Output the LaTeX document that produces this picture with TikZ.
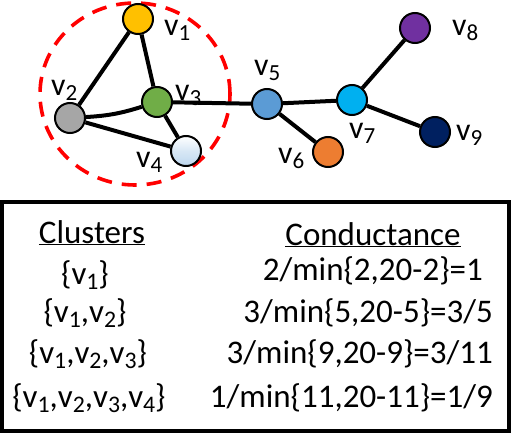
\documentclass[tikz,border=0pt]{standalone}
\usepackage{fontspec}
\setmainfont{Carlito}
\usetikzlibrary{positioning}
\definecolor{vgold}{HTML}{FFC000}
\definecolor{vgray}{HTML}{A6A6A6}
\definecolor{vgreen}{HTML}{70AD47}
\definecolor{vpale}{HTML}{BDD7EE}
\definecolor{vblue}{HTML}{5B9BD5}
\definecolor{vorange}{HTML}{ED7D31}
\definecolor{vcyan}{HTML}{00B0F0}
\definecolor{vpurple}{HTML}{7030A0}
\definecolor{vnavy}{HTML}{002060}
\newcommand{\vx}[1]{v\raisebox{-0.16em}{\scalebox{0.72}{#1}}}
\tikzset{
  vtx/.style={circle,draw=black,line width=2pt,minimum size=30pt,inner sep=0pt},
  vlab/.style={font=\fontsize{32}{32}\selectfont,inner sep=0pt,anchor=base west},
  edge/.style={line width=4pt},
  cell/.style={font=\fontsize{33}{35}\selectfont,inner sep=0pt}
}
\begin{document}
\begin{tikzpicture}[x=1pt,y=-1pt]
\useasboundingbox (0,0) rectangle (512,434);
% the cluster
\draw[red,line width=3.6pt,dash pattern=on 15pt off 10pt] (135,94) ellipse [x radius=95pt, y radius=91pt];
% vertices
\node[vtx,fill=vgold] (v1) at (138,19) {};
\node[vtx,fill=vgray] (v2) at (70,118) {};
\node[vtx,fill=vgreen] (v3) at (157,102) {};
\node[vtx,top color=white,bottom color=vpale,middle color=vpale!60] (v4) at (186,151) {};
\node[vtx,fill=vblue] (v5) at (267,104) {};
\node[vtx,fill=vorange] (v6) at (328,152) {};
\node[vtx,fill=vcyan] (v7) at (352,100) {};
\node[vtx,fill=vpurple] (v8) at (415,28) {};
\node[vtx,fill=vnavy] (v9) at (435,132) {};
% labels
\node[vlab] (l1) at (164,35) {\vx{1}};
\node[vlab] (l2) at (51,95) {\vx{2}};
\node[vlab] (l3) at (175,100) {\vx{3}};
\node[vlab] (l4) at (136,167) {\vx{4}};
\node[vlab] (l5) at (254,75) {\vx{5}};
\node[vlab] (l6) at (278,163) {\vx{6}};
\node[vlab] (l7) at (349,138) {\vx{7}};
\node[vlab] (l8) at (452,35) {\vx{8}};
\node[vlab] (l9) at (456,140) {\vx{9}};
% edges
\draw[edge] (v1) -- (v2);
\draw[edge] (v1) -- (v3);
\draw[edge] (v2) to[bend right=7] (v3);
\draw[edge] (v2) -- (v4);
\draw[edge] (v3) -- (v4);
\draw[edge] (v3) -- (v5);
\draw[edge] (v5) -- (v6);
\draw[edge] (v5) -- (v7);
\draw[edge] (v7) -- (v8);
\draw[edge] (v7) -- (v9);
% table
\draw[line width=4pt] (2,202) rectangle (509,431);
\node[cell,anchor=base] (hc) at (92,243) {\underline{Clusters}};
\node[cell,anchor=base] (hg) at (373,245) {\underline{Conductance}};
\node[cell,anchor=base] (c1) at (85,284) {\{\vx{1}\}};
\node[cell,anchor=base] (c2) at (85,322) {\{\vx{1},\vx{2}\}};
\node[cell,anchor=base] (c3) at (88,363) {\{\vx{1},\vx{2},\vx{3}\}};
\node[cell,anchor=base] (c4) at (89,407) {\{\vx{1},\vx{2},\vx{3},\vx{4}\}};
\node[cell,anchor=base east] (g1) at (483,280) {2/min\{2,20-2\}=1};
\node[cell,anchor=base east] (g2) at (493,322) {3/min\{5,20-5\}=3/5};
\node[cell,anchor=base east] (g3) at (493,363) {3/min\{9,20-9\}=3/11};
\node[cell,anchor=base east] (g4) at (493,407) {1/min\{11,20-11\}=1/9};
\end{tikzpicture}
\end{document}
